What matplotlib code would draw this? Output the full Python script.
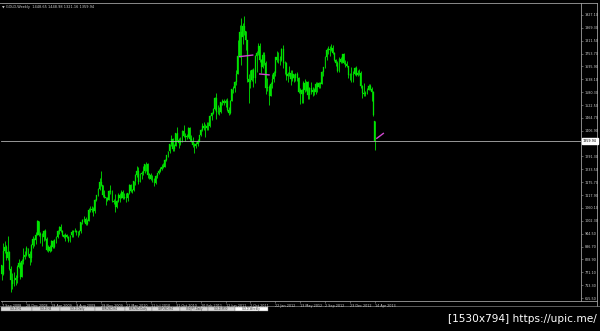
import matplotlib
matplotlib.use("Agg")
import matplotlib.pyplot as plt
import matplotlib.transforms as mtransforms
from matplotlib.patches import Rectangle, Polygon
import numpy as np

# ---------------- data (weekly GOLD candles, 7 Sep 2008 .. 14 Apr 2013) ----------------
first_open = 803
last_open = 1448.65

closes = [
    763, 865, 885, 835, 860, 785, 735, 720, 735, 745, 795, 815, 752, 820, 838, 848, 880,
    855, 835, 895, 920, 915, 940, 1000, 940, 940, 930, 955, 920, 870, 885, 868, 910, 885, 915, 930, 955,
    975, 958, 940, 930, 940, 930, 912, 938, 952, 955, 957, 950, 952, 955, 995, 1005, 1010, 990, 1003, 1050,
    1052, 1057, 1045, 1095, 1118, 1145, 1175, 1163, 1120, 1110, 1105, 1097,
    1138, 1130, 1090, 1085, 1065, 1092, 1117, 1106, 1134, 1103, 1110, 1105, 1126, 1162, 1137, 1139, 1179, 1209,
    1228, 1177, 1212, 1218, 1227, 1256, 1257, 1210, 1210, 1190, 1189, 1170, 1204, 1216, 1228, 1237, 1246, 1245,
    1275, 1297, 1317, 1346, 1370, 1325, 1340, 1397, 1367, 1352, 1363, 1405, 1383, 1380, 1380, 1420,
    1369, 1360, 1343, 1340, 1349, 1360, 1388, 1410, 1429, 1421, 1418, 1428, 1430, 1474, 1486, 1504, 1556, 1491,
    1492, 1491, 1536, 1542, 1530, 1540, 1502, 1486, 1542, 1593, 1601, 1624, 1662, 1742, 1852, 1828, 1877, 1855,
    1813, 1640, 1624, 1635, 1682, 1642, 1745, 1755, 1788, 1724, 1695, 1746, 1710, 1597, 1605, 1565,
    1616, 1640, 1665, 1737, 1725, 1725, 1725, 1776, 1710, 1712, 1655, 1662, 1668, 1640, 1660, 1642, 1663, 1645,
    1580, 1592, 1572, 1622, 1592, 1627, 1567, 1598, 1580, 1592, 1582, 1619, 1605, 1620, 1616, 1671, 1692, 1739,
    1768, 1773, 1772, 1780, 1758, 1724, 1711, 1677, 1730, 1714, 1751, 1712, 1705, 1696, 1657, 1658, 1657,
    1662, 1687, 1658, 1667, 1667, 1609, 1578, 1572, 1577, 1592, 1607, 1595, 1583, 1476, 1359.94,
]

highs = [
    806, 903, 912, 892, 935, 868, 800, 766, 772, 760, 806, 830, 818, 830, 880, 865, 889,
    882, 865, 899, 936, 925, 952, 1006, 1003, 952, 946, 963, 965, 928, 895, 893, 918, 914, 920, 933, 960,
    980, 989, 963, 945, 946, 945, 935, 940, 960, 962, 970, 960, 957, 960, 999, 1012, 1025, 1020, 1010, 1062,
    1070, 1070, 1065, 1101, 1120, 1150, 1195, 1227, 1165, 1140, 1111, 1110,
    1140, 1162, 1140, 1101, 1123, 1095, 1126, 1128, 1140, 1140, 1129, 1127, 1127, 1167, 1169, 1144, 1180, 1211,
    1249, 1242, 1217, 1225, 1250, 1259, 1265, 1262, 1215, 1216, 1208, 1195, 1208, 1219, 1236, 1245, 1257, 1260,
    1279, 1300, 1318, 1349, 1387, 1376, 1346, 1398, 1424, 1375, 1378, 1410, 1432, 1397, 1392, 1425,
    1424, 1389, 1378, 1350, 1358, 1368, 1390, 1415, 1444, 1445, 1436, 1448, 1447, 1476, 1489, 1509, 1557, 1577,
    1522, 1512, 1538, 1548, 1550, 1548, 1555, 1514, 1544, 1595, 1610, 1632, 1682, 1814, 1881, 1912, 1890, 1921,
    1856, 1815, 1660, 1680, 1686, 1690, 1748, 1765, 1803, 1800, 1730, 1760, 1763, 1720, 1643, 1612,
    1626, 1662, 1676, 1740, 1764, 1763, 1745, 1780, 1792, 1720, 1718, 1670, 1697, 1680, 1679, 1662, 1668, 1670,
    1647, 1597, 1595, 1629, 1640, 1630, 1632, 1605, 1626, 1603, 1598, 1628, 1624, 1625, 1627, 1675, 1694, 1742,
    1778, 1788, 1787, 1796, 1792, 1760, 1730, 1720, 1737, 1738, 1753, 1755, 1723, 1722, 1700, 1668, 1693,
    1675, 1695, 1697, 1680, 1686, 1675, 1613, 1620, 1587, 1597, 1616, 1616, 1605, 1587, 1448.98,
]

lows = [
    736, 760, 857, 826, 828, 782, 681, 695, 711, 712, 725, 790, 741, 750, 810, 832, 843,
    842, 805, 818, 880, 888, 898, 938, 935, 902, 888, 912, 917, 865, 862, 862, 865, 878, 880, 903, 926,
    943, 950, 932, 923, 913, 924, 905, 909, 930, 928, 950, 937, 931, 939, 946, 987, 998, 985, 983, 1000,
    1040, 1040, 1026, 1039, 1090, 1113, 1140, 1158, 1109, 1104, 1075, 1092,
    1095, 1122, 1085, 1078, 1044, 1058, 1085, 1088, 1105, 1101, 1100, 1088, 1093, 1123, 1132, 1127, 1138, 1163,
    1197, 1166, 1175, 1192, 1209, 1217, 1225, 1195, 1190, 1186, 1176, 1157, 1166, 1193, 1212, 1222, 1232, 1240,
    1243, 1270, 1291, 1309, 1340, 1315, 1318, 1337, 1360, 1330, 1342, 1356, 1378, 1360, 1372, 1378,
    1363, 1355, 1332, 1308, 1328, 1340, 1358, 1385, 1405, 1410, 1381, 1411, 1412, 1424, 1454, 1481, 1502, 1462,
    1482, 1477, 1487, 1522, 1522, 1515, 1496, 1478, 1482, 1540, 1578, 1583, 1614, 1660, 1740, 1702, 1795, 1835,
    1770, 1628, 1532, 1600, 1630, 1604, 1620, 1672, 1746, 1715, 1667, 1687, 1702, 1570, 1585, 1523,
    1564, 1598, 1628, 1655, 1714, 1710, 1702, 1720, 1690, 1663, 1634, 1627, 1652, 1613, 1629, 1625, 1631, 1630,
    1577, 1527, 1532, 1533, 1582, 1586, 1550, 1548, 1573, 1565, 1568, 1572, 1582, 1599, 1597, 1615, 1652, 1687,
    1723, 1753, 1745, 1765, 1752, 1720, 1697, 1673, 1672, 1710, 1713, 1705, 1692, 1692, 1643, 1635, 1625,
    1626, 1659, 1655, 1652, 1656, 1598, 1554, 1565, 1562, 1574, 1590, 1590, 1540, 1475, 1321.16,
]

date_labels = ["7 Sep 2008", "28 Dec 2008", "19 Apr 2009", "9 Aug 2009", "29 Nov 2009",
               "21 Mar 2010", "11 Jul 2010", "31 Oct 2010", "20 Feb 2011", "12 Jun 2011",
               "2 Oct 2011", "22 Jan 2012", "13 May 2012", "2 Sep 2012", "23 Dec 2012", "14 Apr 2013"]
date_bar_index = [0, 16, 32, 48, 64, 80, 96, 112, 128, 144, 160, 176, 192, 208, 224, 240]

price_ticks = [655.50, 713.30, 771.10, 828.90, 886.70, 944.50, 1002.30, 1060.10, 1117.90, 1175.70,
               1233.50, 1291.30, 1406.90, 1464.70, 1522.50, 1580.30, 1638.10, 1695.90, 1753.70,
               1811.50, 1869.30, 1927.10]
current_price = 1359.94

# user-drawn trend lines (bar index, price)
trend_lines = [((153, 1740), (161.5, 1747)),
               ((166, 1662), (172, 1658)),
               ((241.3, 1373), (245.5, 1395))]

title_text = "\u25bc GOLD,Weekly  1448.65 1448.98 1321.16 1359.94"
tab_labels = ["GOLD,H1", "GOLD,H4", "GOLD,Daily", "EURUSD,H4", "EURUSD,Daily",
              "GBPUSD,H4", "USDJPY,Daily", "GOLD,M30", "GOLD,Weekly"]
watermark = "[1530x794] https://upic.me/"

# ---------------- figure ----------------
W, H = 600, 331
fig = plt.figure(figsize=(W / 100, H / 100), dpi=100, facecolor="black")

bg = fig.add_axes([0, 0, 1, 1])
bg.set_xlim(0, W)
bg.set_ylim(H, 0)
bg.axis("off")

left_px, right_px, top_px, bot_px = 0.5, 580.7, 2.7, 300.7
ax = fig.add_axes([left_px / W, (H - bot_px) / H, (right_px - left_px) / W, (bot_px - top_px) / H])
ax.set_facecolor("black")

n = len(closes)
idx = np.arange(n)
c = np.array(closes, dtype=float)
o = np.array([first_open] + closes[:-1], dtype=float)
o[-1] = last_open
hi = np.array(highs, dtype=float)
lo = np.array(lows, dtype=float)

green = "#00e400"
ax.vlines(idx, np.minimum(lo, np.minimum(o, c)), np.maximum(hi, np.maximum(o, c)),
          color=green, lw=0.6)
body_bottom = np.minimum(o, c)
body_h = np.maximum(np.abs(c - o), 1.5)
ax.bar(idx, body_h, bottom=body_bottom, width=0.6, color=green, edgecolor=green, lw=0.2)

for (x0, y0), (x1, y1) in trend_lines:
    ax.plot([x0, x1], [y0, y1], color="#d048d0", lw=1.0, zorder=5)

ax.axhline(current_price, color="#b0b0b0", lw=0.6)

bar_px = 1.555
xmin = -0.7
ax.set_xlim(xmin, xmin + (right_px - left_px) / bar_px)
y_scale = 0.22256  # px per dollar
ax.set_ylim(655.5 - (bot_px - 298) / y_scale, 655.5 + (298 - top_px) / y_scale)

ax.spines["left"].set_visible(False)
for s in ["top", "right", "bottom"]:
    ax.spines[s].set_color("#a0a0a0")
    ax.spines[s].set_linewidth(0.6)

ax.yaxis.tick_right()
ax.set_yticks(price_ticks)
ax.set_yticklabels(["%.2f" % v for v in price_ticks])
ax.tick_params(axis="y", length=1.5, width=0.4, color="#a0a0a0", pad=1.2,
               labelsize=2.4, labelcolor="#d0d0d0")
ax.set_xticks(date_bar_index)
ax.set_xticklabels(date_labels, ha="left")
ax.tick_params(axis="x", length=1.5, width=0.4, color="#a0a0a0", pad=0.6,
               labelsize=2.4, labelcolor="#d0d0d0")

trans = mtransforms.blended_transform_factory(ax.transAxes, ax.transData)
ax.text(1.004, current_price, "%.2f" % current_price, transform=trans, fontsize=2.4,
        color="black", va="center", ha="left", clip_on=False,
        bbox=dict(boxstyle="square,pad=0.25", facecolor="white", edgecolor="white"))

# frame lines outside the plot
bg.plot([0, 597], [top_px, top_px], color="#a0a0a0", lw=0.6)
bg.plot([597, 597], [top_px, 306], color="#a0a0a0", lw=0.6)
bg.plot([right_px, 597], [bot_px, bot_px], color="#a0a0a0", lw=0.6)
bg.plot([0, 600], [306.3, 306.3], color="#808080", lw=0.5)

# title
fig.text(2 / W, 1 - 6.8 / H, title_text, fontsize=2.5, color="#d0d0d0", va="center", ha="left")
bg.add_patch(Polygon([[298, 4.2], [302, 4.2], [300, 6.5]], closed=True, color="#a0a0a0"))

# tab strip
tab_edges = [1, 32, 60, 95, 125, 152, 180, 208, 235, 268]
for i, lab in enumerate(tab_labels):
    x0, x1 = tab_edges[i], tab_edges[i + 1]
    active = i == len(tab_labels) - 1
    bg.add_patch(Rectangle((x0, 306.8), x1 - x0, 4.6,
                           facecolor="white" if active else "#d8d8d8",
                           edgecolor="#808080", lw=0.3))
    bg.text((x0 + x1) / 2, 309.1, lab, fontsize=2.0, color="#404040", ha="center", va="center")

fig.text(597 / W, 1 - 318.5 / H, watermark, fontsize=7.6, color="white", ha="right", va="center")

fig.savefig("out.png", dpi=100, facecolor="black")
